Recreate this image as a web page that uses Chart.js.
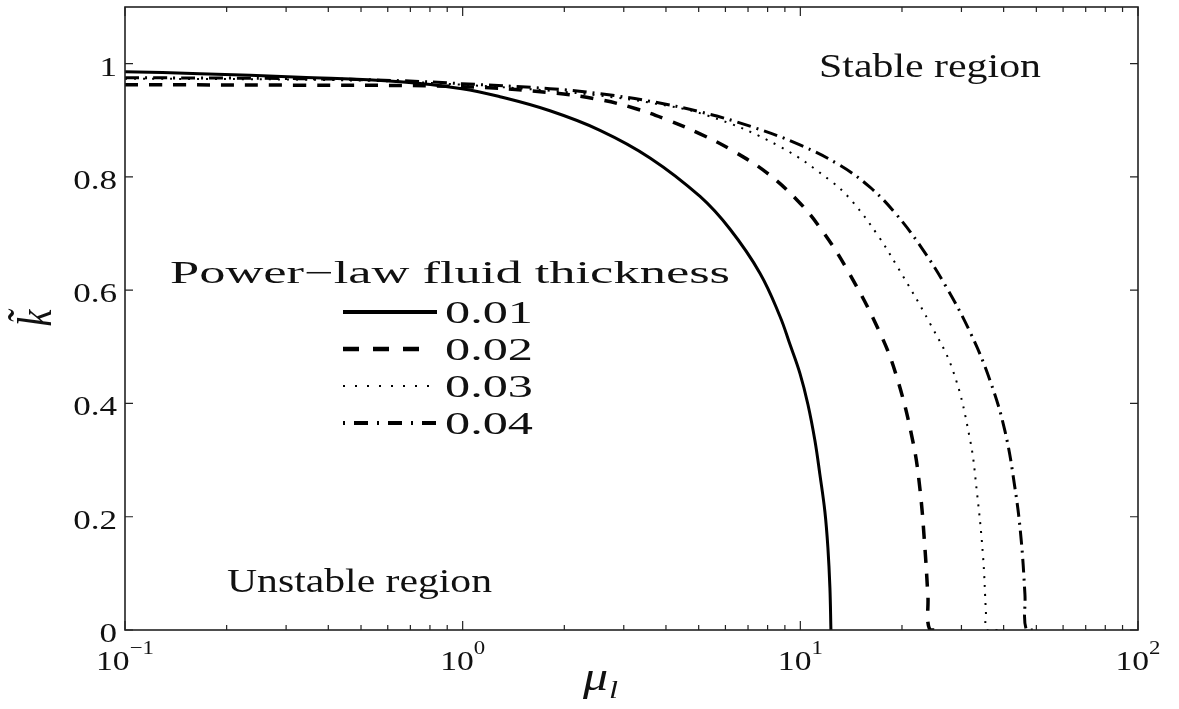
<!DOCTYPE html>
<html><head><meta charset="utf-8">
<script src="https://cdn.jsdelivr.net/npm/chart.js@4.4.1/dist/chart.umd.min.js"></script>
<style>html,body{margin:0;padding:0;background:#fff}canvas{display:block}</style>
</head><body>
<canvas id="c" width="1179" height="709"></canvas>
<script>
// ---- data ----
const seriesLabels = ['0.01', '0.02', '0.03', '0.04'];
const legendTitle = 'Power\u2212law fluid thickness';

const mu01 = [0.1, 0.1667, 0.33, 0.6524, 0.9952, 1.2893, 1.8134, 2.5506, 3.5876, 5.0462, 6.186, 7.593, 8.700, 9.316, 9.973, 10.532, 11.045, 11.428, 11.824, 12.069, 12.235, 12.319];
const k01  = [0.9858, 0.9823, 0.9761, 0.9681, 0.9558, 0.9416, 0.9168, 0.8823, 0.8336, 0.7655, 0.7080, 0.6301, 0.5540, 0.5044, 0.4531, 0.3982, 0.3345, 0.2743, 0.2088, 0.1451, 0.0743, 0.0];

const mu02 = [0.1, 0.33, 0.9952, 1.8134, 2.5506, 3.2614, 4.0270, 5.0462, 6.3157, 7.9634, 9.7722, 11.428, 13.737, 17.211, 19.319, 21.548, 22.600, 23.384, 23.868, 24.196, 26.44];
const k02  = [0.9628, 0.9619, 0.9593, 0.9487, 0.9363, 0.9204, 0.9009, 0.8761, 0.8460, 0.8071, 0.7593, 0.7106, 0.6372, 0.5248, 0.4460, 0.3327, 0.2496, 0.1451, 0.0602, 0.0, 0.0];

const mu03 = [0.1, 0.33, 0.6524, 0.9952, 1.8134, 2.5506, 3.5876, 5.2891, 8.6415, 12.404, 14.311, 16.974, 19.319, 24.196, 28.307, 31.785, 33.340, 34.732, 35.449, 35.692, 38.99];
const k03  = [0.9735, 0.9717, 0.9681, 0.9628, 0.9522, 0.9434, 0.9310, 0.9087, 0.8545, 0.7913, 0.7554, 0.6966, 0.6428, 0.5416, 0.4581, 0.3373, 0.2432, 0.1329, 0.0317, 0.0, 0.0];

const mu04 = [0.1, 0.33, 0.6524, 0.9952, 1.8134, 2.5506, 3.5876, 5.0462, 7.0935, 9.973, 13.104, 16.075, 19.058, 22.600, 26.804, 31.785, 36.432, 40.356, 43.2, 45.0, 46.25, 46.72, 50.18];
const k04  = [0.9752, 0.9735, 0.9699, 0.9646, 0.9558, 0.9469, 0.9336, 0.9149, 0.8896, 0.8565, 0.8204, 0.7818, 0.7368, 0.6791, 0.6097, 0.5265, 0.4411, 0.3515, 0.2512, 0.1646, 0.0634, 0.0, 0.0];

const xMajorTicks = [0.1, 1, 10, 100];
const xTickExponents = ['\u22121', '0', '1', '2'];
const yTicks = [0, 0.2, 0.4, 0.6, 0.8, 1];
const yTickLabels = ['0', '0.2', '0.4', '0.6', '0.8', '1'];
const annotations = ['Stable region', 'Unstable region'];

// ---- styles ----
const SERIF = '"Liberation Serif", "Times New Roman", serif';
const INK = '#111';
const lineStyles = [
  {w: 3,   dash: [],            legendDash: [],             legendW: 4},
  {w: 3.5, dash: [13, 11],      legendDash: [16, 14],       legendW: 4.5},
  {w: 2,   dash: [2, 7],        legendDash: [2, 10],        legendW: 2},
  {w: 3,   dash: [14, 6, 2, 6], legendDash: [2, 9, 14, 9],  legendW: 4}
];

const muSets = [mu01, mu02, mu03, mu04];
const kSets = [k01, k02, k03, k04];

function pts(xs, ys) { return xs.map((x, i) => ({x: x, y: ys[i]})); }

function drawStretched(ctx, str, x, y, font, sx, align) {
  ctx.save();
  ctx.font = font;
  const w = ctx.measureText(str).width * sx;
  let x0 = x;
  if (align === 'right') x0 = x - w;
  else if (align === 'center') x0 = x - w / 2;
  ctx.translate(x0, y);
  ctx.scale(sx, 1);
  ctx.textAlign = 'left';
  ctx.textBaseline = 'alphabetic';
  ctx.fillText(str, 0, 0);
  ctx.restore();
  return w;
}
function fitText(ctx, str, x, y, font, targetW) {
  ctx.save();
  ctx.font = font;
  const sx = targetW / ctx.measureText(str).width;
  ctx.restore();
  drawStretched(ctx, str, x, y, font, sx, 'left');
}

const decorPlugin = {
  id: 'decor',
  afterDatasetsDraw(chart) {
    const ctx = chart.ctx;
    const a = chart.chartArea;
    const xs = chart.scales.x, ys = chart.scales.y;
    ctx.save();
    ctx.fillStyle = INK;
    ctx.strokeStyle = '#222';
    // box
    ctx.lineWidth = 1.6;
    ctx.setLineDash([]);
    ctx.strokeRect(a.left, a.top, a.right - a.left, a.bottom - a.top);
    // x ticks (major + minor), inward on bottom and top
    ctx.lineWidth = 1.2;
    ctx.beginPath();
    xMajorTicks.forEach((d, i) => {
      const px = xs.getPixelForValue(d);
      ctx.moveTo(px, a.bottom); ctx.lineTo(px, a.bottom - 9);
      ctx.moveTo(px, a.top); ctx.lineTo(px, a.top + 9);
      if (i < xMajorTicks.length - 1) {
        for (let m = 2; m <= 9; m++) {
          const q = xs.getPixelForValue(d * m);
          ctx.moveTo(q, a.bottom); ctx.lineTo(q, a.bottom - 5);
          ctx.moveTo(q, a.top); ctx.lineTo(q, a.top + 5);
        }
      }
    });
    // y ticks, inward on left and right
    yTicks.forEach(v => {
      const py = ys.getPixelForValue(v);
      ctx.moveTo(a.left, py); ctx.lineTo(a.left + 8, py);
      ctx.moveTo(a.right, py); ctx.lineTo(a.right - 8, py);
    });
    ctx.stroke();

    // y tick labels
    yTicks.forEach((v, i) => {
      const py = ys.getPixelForValue(v);
      drawStretched(ctx, yTickLabels[i], 117, py + 12, '27px ' + SERIF, 1.3, 'right');
    });
    // x tick labels 10^n
    xMajorTicks.forEach((d, i) => {
      const px = xs.getPixelForValue(d);
      ctx.save();
      ctx.font = '28px ' + SERIF;
      const w1 = ctx.measureText('10').width * 1.2;
      ctx.font = '19px ' + SERIF;
      const w2 = ctx.measureText(xTickExponents[i]).width * 1.2;
      ctx.restore();
      const x0 = px - (w1 + w2) / 2;
      drawStretched(ctx, '10', x0, 670, '28px ' + SERIF, 1.2, 'left');
      drawStretched(ctx, xTickExponents[i], x0 + w1, 654, '19px ' + SERIF, 1.2, 'left');
    });
    // axis titles
    const wmu = drawStretched(ctx, '\u03bc', 583, 690, 'italic 40px ' + SERIF, 1.25, 'left');
    drawStretched(ctx, 'l', 583 + wmu + 1, 698, 'italic 26px ' + SERIF, 1.25, 'left');
    ctx.save();
    ctx.translate(38, 318);
    ctx.rotate(-Math.PI / 2);
    ctx.scale(1, 1.3);
    ctx.font = 'italic 38px ' + SERIF;
    ctx.textAlign = 'center';
    ctx.textBaseline = 'middle';
    ctx.fillText('k\u0303', 0, 0);
    ctx.restore();

    // annotations
    fitText(ctx, annotations[0], 819, 77, '33px ' + SERIF, 222);
    fitText(ctx, annotations[1], 227, 592, '33px ' + SERIF, 265);

    // legend
    fitText(ctx, legendTitle, 170, 283, '31px ' + SERIF, 560);
    chart.data.datasets.forEach((ds, i) => {
      const yy = 312 + 37 * i;
      const st = lineStyles[i];
      ctx.save();
      ctx.strokeStyle = ds.borderColor;
      ctx.lineWidth = st.legendW;
      ctx.setLineDash(st.legendDash);
      ctx.lineCap = 'butt';
      ctx.beginPath();
      ctx.moveTo(343, yy);
      ctx.lineTo(i === 1 ? 422 : 437, yy);
      ctx.stroke();
      ctx.restore();
      fitText(ctx, ds.label, 445, yy + 11, '31px ' + SERIF, 88);
    });
    ctx.restore();
  }
};

new Chart(document.getElementById('c'), {
  type: 'line',
  data: {
    datasets: seriesLabels.map((lab, i) => ({
      label: lab,
      data: pts(muSets[i], kSets[i]),
      borderColor: '#000',
      backgroundColor: '#000',
      borderWidth: lineStyles[i].w,
      borderDash: lineStyles[i].dash,
      pointRadius: 0,
      fill: false,
      tension: 0.4
    }))
  },
  options: {
    responsive: false,
    devicePixelRatio: 1,
    animation: false,
    layout: {padding: {left: 125, right: 41, top: 7, bottom: 79}},
    plugins: {legend: {display: false}, tooltip: {enabled: false}},
    scales: {
      x: {type: 'logarithmic', min: 0.1, max: 100, display: false},
      y: {type: 'linear', min: 0, max: 1.1, display: false}
    }
  },
  plugins: [decorPlugin]
});
</script>
</body></html>
